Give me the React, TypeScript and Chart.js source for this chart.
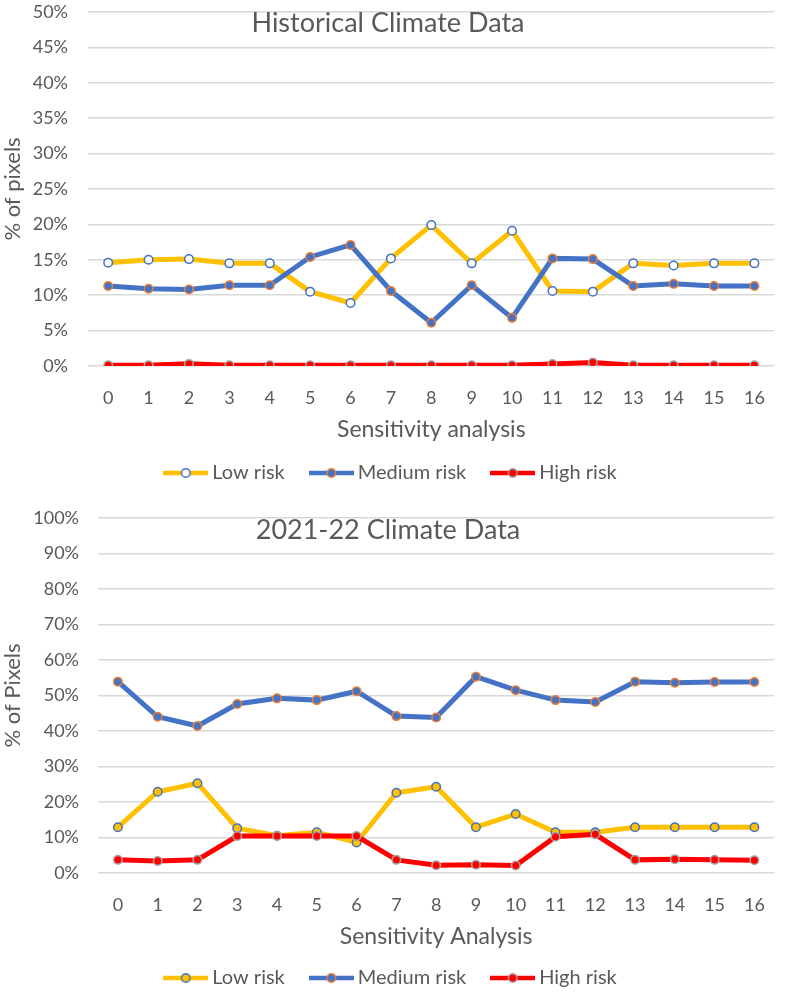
import React, { useEffect, useRef } from "react";
import { Chart, registerables } from "chart.js";

Chart.register(...registerables);

// ---------- data ----------
const categories = ["0", "1", "2", "3", "4", "5", "6", "7", "8", "9", "10", "11", "12", "13", "14", "15", "16"];
const seriesNames = ["Low risk", "Medium risk", "High risk"];

const histLow = [14.6, 15.0, 15.1, 14.5, 14.5, 10.5, 8.9, 15.2, 19.9, 14.5, 19.1, 10.6, 10.5, 14.5, 14.2, 14.5, 14.5];
const histMedium = [11.3, 10.9, 10.8, 11.4, 11.4, 15.4, 17.1, 10.6, 6.1, 11.4, 6.8, 15.2, 15.1, 11.3, 11.6, 11.3, 11.3];
const histHigh = [0.1, 0.1, 0.3, 0.1, 0.1, 0.1, 0.1, 0.1, 0.1, 0.1, 0.1, 0.3, 0.5, 0.1, 0.1, 0.1, 0.1];

const recentLow = [12.9, 22.9, 25.3, 12.6, 10.5, 11.5, 8.6, 22.6, 24.3, 12.9, 16.6, 11.5, 11.5, 12.9, 12.9, 12.9, 12.9];
const recentMedium = [53.9, 44.0, 41.4, 47.6, 49.2, 48.7, 51.2, 44.2, 43.8, 55.3, 51.5, 48.7, 48.2, 53.9, 53.6, 53.8, 53.8];
const recentHigh = [3.7, 3.4, 3.7, 10.4, 10.4, 10.4, 10.4, 3.7, 2.2, 2.3, 2.1, 10.2, 10.9, 3.7, 3.9, 3.7, 3.6];

const histTitle = "Historical Climate Data";
const recentTitle = "2021-22 Climate Data";
const histYTitle = "% of pixels";
const recentYTitle = "% of Pixels";
const histXTitle = "Sensitivity analysis";
const recentXTitle = "Sensitivity Analysis";
const histYMax = 50;
const histYStep = 5;
const recentYMax = 100;
const recentYStep = 10;

// ---------- styles ----------
const LOW = "#FFC000";
const MED = "#4472C4";
const MED_BORDER = "#ED7D31";
const HIGH = "#FF0000";
const HIGH_BORDER = "#A5A5A5";
const TEXT = "#595959";
const GRID = "#D9D9D9";
const FONT = "Lato, 'Open Sans', sans-serif";

function makeGlyph(lineColor: string, fill: string, border: string): HTMLCanvasElement {
  const c = document.createElement("canvas");
  c.width = 45;
  c.height = 14;
  const ctx = c.getContext("2d")!;
  ctx.strokeStyle = lineColor;
  ctx.lineWidth = 4.5;
  ctx.beginPath();
  ctx.moveTo(0, 7);
  ctx.lineTo(45, 7);
  ctx.stroke();
  ctx.beginPath();
  ctx.arc(22.5, 7, 4.25, 0, Math.PI * 2);
  ctx.fillStyle = fill;
  ctx.fill();
  ctx.lineWidth = 1.5;
  ctx.strokeStyle = border;
  ctx.stroke();
  return c;
}

const overlayTitle = {
  id: "overlayTitle",
  afterDraw(chart: any, _args: any, opts: any) {
    if (!opts || !opts.text) return;
    const ctx = chart.ctx;
    ctx.save();
    ctx.font = `${opts.size}px ${FONT}`;
    ctx.fillStyle = TEXT;
    ctx.textAlign = "center";
    ctx.textBaseline = "alphabetic";
    ctx.fillText(opts.text, chart.width / 2 - 5, chart.chartArea.top + opts.offset);
    ctx.restore();
  },
};

interface Cfg {
  title: string;
  yTitle: string;
  xTitle: string;
  max: number;
  step: number;
  low: number[];
  med: number[];
  high: number[];
  lowFill: string;
  yWidth: number;
  yTickPad: number;
  padTop: number;
  xHeight: number;
  xTitlePadBottom: number;
  titleOffset: number;
}

function buildConfig(c: Cfg): any {
  const glyphs = [
    makeGlyph(LOW, c.lowFill, MED),
    makeGlyph(MED, MED, MED_BORDER),
    makeGlyph(HIGH, HIGH, HIGH_BORDER),
  ];
  const common = {
    borderWidth: 5,
    tension: 0,
    pointRadius: 4.25,
    pointHoverRadius: 4.25,
    pointBorderWidth: 1.5,
  };
  return {
    type: "line",
    data: {
      labels: categories,
      datasets: [
        { ...common, label: seriesNames[0], data: c.low, borderColor: LOW, backgroundColor: LOW, pointBackgroundColor: c.lowFill, pointBorderColor: MED, order: 3 },
        { ...common, label: seriesNames[1], data: c.med, borderColor: MED, backgroundColor: MED, pointBackgroundColor: MED, pointBorderColor: MED_BORDER, order: 2 },
        { ...common, label: seriesNames[2], data: c.high, borderColor: HIGH, backgroundColor: HIGH, pointBackgroundColor: HIGH, pointBorderColor: HIGH_BORDER, order: 1 },
      ],
    },
    options: {
      animation: false,
      responsive: false,
      events: [],
      layout: { padding: { top: c.padTop, left: 0, right: 0, bottom: 0 } },
      scales: {
        x: {
          type: "category",
          offset: true,
          grid: { display: false, drawTicks: false },
          border: { display: false },
          ticks: { color: TEXT, font: { family: FONT, size: 18 }, padding: 21, maxRotation: 0, autoSkip: false },
          title: { display: true, text: c.xTitle, color: TEXT, font: { family: FONT, size: 23 }, padding: { top: 0, bottom: c.xTitlePadBottom } },
          afterFit: (s: any) => { s.height = c.xHeight; },
        },
        y: {
          min: 0,
          max: c.max,
          grid: { color: GRID, lineWidth: 1.5, drawTicks: false },
          border: { display: false },
          ticks: {
            stepSize: c.step,
            color: TEXT,
            font: { family: FONT, size: 18 },
            padding: c.yTickPad,
            callback: (v: any) => `${v}%`,
          },
          title: { display: true, text: c.yTitle, color: TEXT, font: { family: FONT, size: 22 }, padding: 0 },
          afterFit: (s: any) => {
            s.width = c.yWidth;
            s.paddingTop = 0;
            s.paddingBottom = 0;
          },
        },
      },
      plugins: {
        tooltip: { enabled: false },
        title: { display: false },
        overlayTitle: { text: c.title, size: 27, offset: c.titleOffset },
        legend: {
          display: true,
          position: "bottom",
          labels: {
            usePointStyle: true,
            pointStyleWidth: 33,
            padding: 30,
            color: TEXT,
            font: { family: FONT, size: 20 },
            generateLabels: () =>
              seriesNames.map((name, i) => ({
                text: name,
                pointStyle: glyphs[i],
                fillStyle: "transparent",
                strokeStyle: "transparent",
                lineWidth: 0,
                hidden: false,
                datasetIndex: i,
                fontColor: TEXT,
              })),
          },
        },
      },
    },
    plugins: [overlayTitle],
  };
}

function LineChart({ cfg, width, height }: { cfg: Cfg; width: number; height: number }) {
  const ref = useRef<HTMLCanvasElement | null>(null);
  useEffect(() => {
    if (!ref.current) return;
    const chart = new Chart(ref.current, buildConfig(cfg));
    return () => chart.destroy();
  }, []);
  return <canvas ref={ref} width={width} height={height} style={{ display: "block", width, height }} />;
}

export default function App() {
  const topCfg: Cfg = {
    title: histTitle,
    yTitle: histYTitle,
    xTitle: histXTitle,
    max: histYMax,
    step: histYStep,
    low: histLow,
    med: histMedium,
    high: histHigh,
    lowFill: "#FFFFFF",
    yWidth: 88,
    yTickPad: 20,
    padTop: 12,
    xHeight: 67,
    xTitlePadBottom: -10,
    titleOffset: 20,
  };
  const bottomCfg: Cfg = {
    title: recentTitle,
    yTitle: recentYTitle,
    xTitle: recentXTitle,
    max: recentYMax,
    step: recentYStep,
    low: recentLow,
    med: recentMedium,
    high: recentHigh,
    lowFill: LOW,
    yWidth: 98,
    yTickPad: 19,
    padTop: 25,
    xHeight: 65,
    xTitlePadBottom: -12,
    titleOffset: 21,
  };
  return (
    <div style={{ position: "absolute", left: 0, top: 0, width: 786, height: 994, overflow: "hidden", background: "#fff" }}>
      <div style={{ position: "absolute", left: 0, top: 0 }}>
        <LineChart cfg={topCfg} width={786} height={493} />
      </div>
      <div style={{ position: "absolute", left: 0, top: 493 }}>
        <LineChart cfg={bottomCfg} width={786} height={505} />
      </div>
    </div>
  );
}
